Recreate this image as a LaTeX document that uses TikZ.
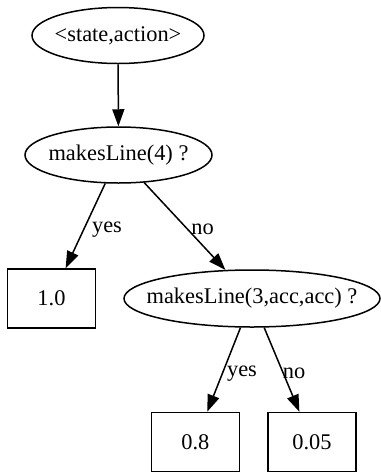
\documentclass[tikz,border=0pt]{standalone}
\usepackage{fontspec}
\setmainfont{Liberation Serif}
\usetikzlibrary{shapes.geometric,arrows.meta}
\begin{document}
\begin{tikzpicture}[x=1pt,y=-1pt,
  every node/.style={font=\fontsize{22.4}{26}\selectfont},
  ell/.style={draw,ellipse,line width=1.5pt,inner sep=0pt,minimum height=56pt},
  leaf/.style={draw,rectangle,line width=1.5pt,inner sep=0pt,minimum width=88pt,minimum height=59pt},
  edge/.style={line width=1.5pt,-{Triangle[length=17pt,width=12pt]}},
  lbl/.style={inner sep=0pt}]
\useasboundingbox (0,0) rectangle (381,475);
\node[ell,minimum width=172pt] (root) at (118,35.5) {\makebox[0pt]{<state,action>}};
\node[ell,minimum width=187pt] (q1) at (118.5,155) {\makebox[0pt]{makesLine(4) ?}};
\node[leaf] (v1) at (51.5,298.5) {1.0};
\node[ell,minimum width=256pt,minimum height=57pt] (q2) at (252,298.5) {\makebox[0pt]{makesLine(3,acc,acc) ?}};
\node[leaf] (v2) at (195.3,442) {0.8};
\node[leaf] (v3) at (312,442) {0.05};
\draw[edge] (root) -- (q1);
\draw[edge] (q1) -- (v1);
\draw[edge] (q1) -- (q2);
\draw[edge] (q2) -- (v2);
\draw[edge] (q2) -- (v3);
\node[lbl] (l1) at (107,230) {yes};
\node[lbl] (l2) at (202.5,229) {no};
\node[lbl] (l3) at (242,374) {yes};
\node[lbl] (l4) at (294,373) {no};
\end{tikzpicture}
\end{document}
